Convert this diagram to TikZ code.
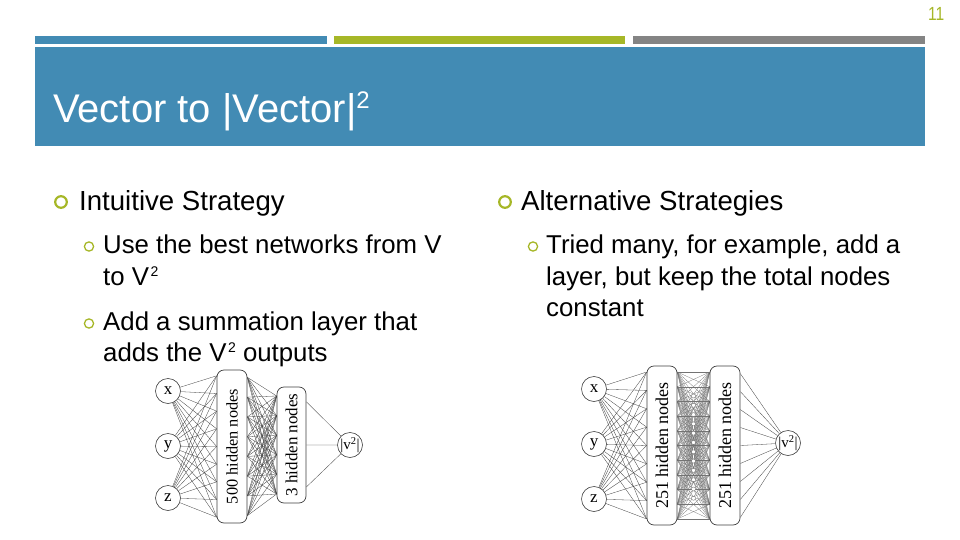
\documentclass[tikz,border=0pt]{standalone}
\usepackage{fontspec}
\setmainfont{Liberation Sans}
\newfontfamily\netfont{Liberation Serif}
\usetikzlibrary{calc}
\definecolor{slideblue}{RGB}{66,139,180}
\definecolor{slideolive}{RGB}{166,183,39}
\definecolor{slidegray}{RGB}{132,132,132}
\definecolor{netline}{RGB}{60,60,60}
\pgfdeclarelayer{bg}
\pgfsetlayers{bg,main}
\newcommand{\supr}[2]{\raisebox{#1}{\fontsize{#2}{#2}\selectfont 2}}
\begin{document}
\begin{tikzpicture}[x=1pt,y=-1pt,
  lvlone/.style={anchor=base west, inner sep=0, font=\fontsize{27.6}{33}\selectfont},
  lvltwo/.style={anchor=base west, inner sep=0, font=\fontsize{25.8}{31}\selectfont},
  ringone/.style={draw=slideolive, line width=2.2pt},
  ringtwo/.style={draw=slideolive, line width=1.3pt},
  neuron/.style={circle, draw=black!75, line width=0.6pt, fill=white, minimum size=25pt, inner sep=0, font=\netfont\fontsize{17}{17}\selectfont},
  outneuron/.style={neuron, font=\netfont\fontsize{15}{15}\selectfont},
  layerbox/.style={draw=black!75, line width=0.7pt, fill=white, rounded corners=7pt, inner sep=0, minimum width=30pt},
  layertext/.style={rotate=90, inner sep=0, font=\netfont\fontsize{#1}{#1}\selectfont},
  wire/.style={draw=netline, line width=0.3pt},
  lightwire/.style={draw=black!55, line width=0.25pt},
  dotnode/.style={circle, draw=black!60, line width=0.3pt, fill=white, minimum size=4pt, inner sep=0},
]
\useasboundingbox (0,0) rectangle (960,540);
\begin{pgfonlayer}{bg}
\fill[white] (0,0) rectangle (960,540);
\end{pgfonlayer}

% page number
\node[anchor=base west, inner sep=0, text=slideolive, font=\fontsize{19}{19}\selectfont, xscale=0.82] (pg) at (928,21) {11};

% bars
\fill[slideblue] (35,36) rectangle (327,44);
\fill[slideolive] (334,36) rectangle (625,44);
\fill[slidegray] (633,36) rectangle (925,44);
\fill[slideblue] (35,47) rectangle (925,146);

% title
\node[anchor=base west, inner sep=0, text=white, font=\fontsize{40}{40}\selectfont] (title) at (53,123) {Vector to |Vector|\supr{14pt}{24}};

% left column text
\draw[ringone] (61,202) circle (5.8);
\node[lvlone] (l1) at (79,210) {Intuitive Strategy};
\draw[ringtwo] (89,246.5) circle (4.6);
\node[lvltwo] (l2a) at (103,253) {Use the best networks from V};
\node[lvltwo] (l2b) at (103,285) {to V\kern1.5pt\supr{9pt}{14}};
\draw[ringtwo] (89,323.5) circle (4.6);
\node[lvltwo] (l3a) at (103,330) {Add a summation layer that};
\node[lvltwo] (l3b) at (103,361) {adds the V\kern1.5pt\supr{9pt}{14} outputs};

% right column text
\draw[ringone] (505,202) circle (5.8);
\node[lvlone] (r1) at (521,210) {Alternative Strategies};
\draw[ringtwo] (533,246.5) circle (4.6);
\node[lvltwo] (r2a) at (546,253) {Tried many, for example, add a};
\node[lvltwo] (r2b) at (546,285) {layer, but keep the total nodes};
\node[lvltwo] (r2c) at (546,316) {constant};

% ---------- left network ----------
\node[neuron] (Lx) at (168,391) {x};
\node[neuron] (Ly) at (168,446) {y};
\node[neuron] (Lz) at (168,498) {z};
\node[layerbox, minimum height=153pt] (La) at (232,446.5) {};
\node[layertext=16.3] (Lat) at (La) {500 hidden nodes};
\node[layerbox, minimum width=29pt, minimum height=116pt] (Lb) at (291.5,445) {};
\node[layertext=17] (Lbt) at (Lb) {3 hidden nodes};
\node[outneuron] (Lo) at (350,445) {|v\textsuperscript{2}|};

\begin{pgfonlayer}{bg}
\foreach \n in {Lx,Ly,Lz}{
  \foreach \t [evaluate=\t as \f using 0.04+0.92*\t/8] in {0,...,8}{
    \draw[wire] (\n) -- ($(La.north west)!\f!(La.south west)$);
  }
}
\foreach \s [evaluate=\s as \g using 0.05+0.9*\s/7] in {0,...,7}{
  \foreach \t [evaluate=\t as \f using 0.08+0.84*\t/5] in {0,...,5}{
    \draw[wire] ($(La.north east)!\g!(La.south east)$) -- ($(Lb.north west)!\f!(Lb.south west)$);
  }
}
\foreach \f in {0.13,0.5,0.86}{
  \draw[wire] ($(Lb.north east)!\f!(Lb.south east)$) -- (Lo);
}
\end{pgfonlayer}

% ---------- right network ----------
\node[neuron] (Rx) at (594,389) {x};
\node[neuron] (Ry) at (594,444) {y};
\node[neuron] (Rz) at (594,499) {z};
\node[layerbox, minimum height=159pt] (Ra) at (662,445.5) {};
\node[layertext=18] (Rat) at (Ra) {251 hidden nodes};
\node[layerbox, minimum height=159pt] (Rb) at (725,445.5) {};
\node[layertext=18] (Rbt) at (Rb) {251 hidden nodes};
\node[outneuron] (Ro) at (788,443) {|v\textsuperscript{2}|};
\foreach \k in {0,...,11}{
  \node[dotnode] (d\k) at (693.5,{396+\k*9.3}) {};
}

\begin{pgfonlayer}{bg}
\foreach \n in {Rx,Ry,Rz}{
  \foreach \t [evaluate=\t as \f using 0.04+0.92*\t/8] in {0,...,8}{
    \draw[wire] (\n) -- ($(Ra.north west)!\f!(Ra.south west)$);
  }
}
\foreach \s [evaluate=\s as \g using 0.04+0.92*\s/10] in {0,...,10}{
  \foreach \t [evaluate=\t as \f using 0.04+0.92*\t/10] in {0,...,10}{
    \draw[lightwire] ($(Ra.north east)!\g!(Ra.south east)$) -- ($(Rb.north west)!\f!(Rb.south west)$);
  }
}
\foreach \t [evaluate=\t as \f using 0.05+0.9*\t/8] in {0,...,8}{
  \draw[wire] ($(Rb.north east)!\f!(Rb.south east)$) -- (Ro);
}
\end{pgfonlayer}
\end{tikzpicture}
\end{document}
